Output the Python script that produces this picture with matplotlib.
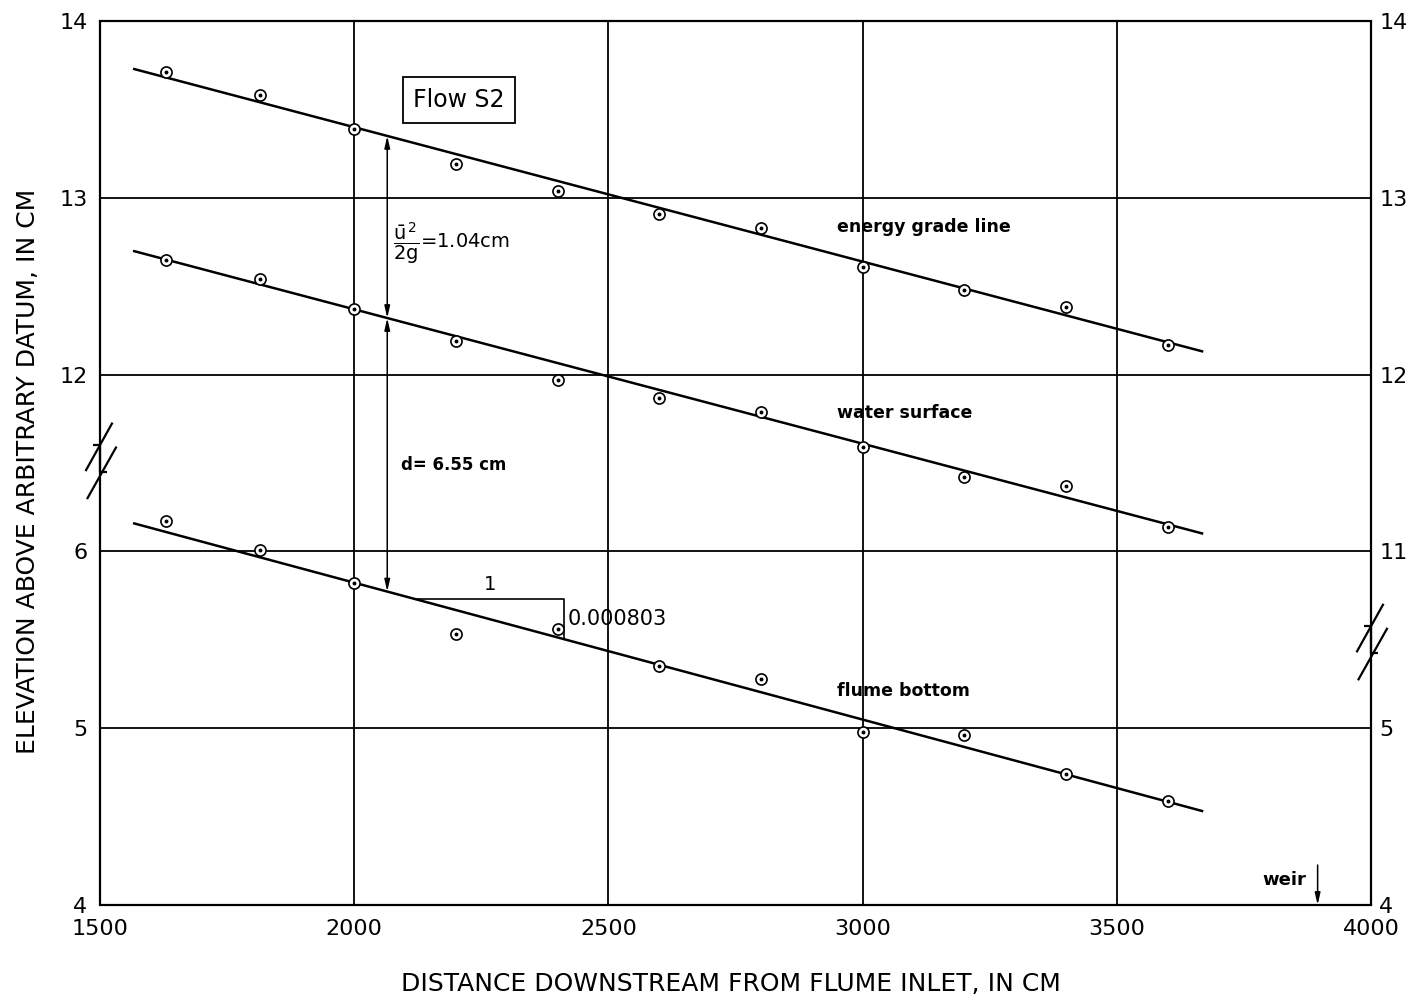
import numpy as np
import matplotlib
matplotlib.use('Agg')
import matplotlib.pyplot as plt

plt.rcParams['font.family'] = ['DejaVu Sans']
plt.rcParams['mathtext.fontset'] = 'dejavusans'

# measuring stations along the flume, cm
station = [1630, 1815, 2000, 2200, 2400, 2600, 2800, 3000, 3200, 3400, 3600]
energy = [13.71, 13.58, 13.39, 13.19, 13.04, 12.91, 12.83, 12.61, 12.48, 12.38, 12.17]
water = [12.65, 12.54, 12.37, 12.19, 11.97, 11.87, 11.79, 11.59, 11.42, 11.37, 11.14]
bottom = [6.17, 6.01, 5.82, 5.53, 5.56, 5.35, 5.28, 4.98, 4.96, 4.74, 4.59]

# fitted straight lines: end stations and elevations
fit_x = [1565, 3670]
energy_fit = [13.73, 12.13]
water_fit = [12.70, 11.10]
bottom_fit = [6.16, 4.53]

x_ticks = [1500, 2000, 2500, 3000, 3500, 4000]
left_labels = ['4', '5', '6', '12', '13', '14']
right_labels = ['4', '5', '11', '12', '13', '14']

velocity_head = 1.04
depth = 6.55
bed_slope = 0.000803
dim_station = 2065
slope_x = [2122, 2412]
weir_station = 3895

# upper readings (energy line, water surface) are shifted down past the break
SHIFT = 5.0

fig = plt.figure(figsize=(14.08, 10.02), dpi=100)
ax = fig.add_axes([100 / 1408, 97 / 1002, 1271 / 1408, 884 / 1002])
ax.set_xlim(1500, 4000)
ax.set_ylim(4, 9)

# pixel -> data scale, used for the break symbols
sx = 2500 / 1271
sy = 5 / 884

ax.set_xticks(x_ticks)
ax.set_xticklabels([str(v) for v in x_ticks])
ax.set_yticks(range(4, 10))
ax.set_yticklabels(left_labels)
ax.grid(True, color='black', lw=1.3)
ax.tick_params(length=0, labelsize=16)
ax.tick_params(axis='x', pad=10)
ax.tick_params(axis='y', pad=9)
for s in ['left', 'right']:
    ax.spines[s].set_visible(False)
for s in ['top', 'bottom']:
    ax.spines[s].set_linewidth(1.6)

ax2 = ax.twinx()
ax2.set_ylim(4, 9)
ax2.set_yticks(range(4, 10))
ax2.set_yticklabels(right_labels)
ax2.tick_params(length=0, labelsize=16, pad=6)
for s in ax2.spines.values():
    s.set_visible(False)


def broken_spine(x, yc):
    kw = dict(color='black', lw=1.6, clip_on=False, solid_capstyle='butt')
    gap = 13.5
    ax.plot([x, x], [4, yc + gap * sy], **kw)
    ax.plot([x, x], [yc - gap * sy, 9], **kw)

    def seg(p, q):
        ax.plot([x + p[0] * sx, x + q[0] * sx],
                [yc - p[1] * sy, yc - q[1] * sy], **kw)

    seg((12.5, -36), (-14.5, 12.5))
    seg((16.5, -12), (-13, 40.5))
    seg((-7, -gap), (0, -gap))
    seg((0, gap), (7, gap))


broken_spine(1500, 6.525)
broken_spine(4000, 5.5)

# fitted lines
line_kw = dict(color='black', lw=1.8, solid_capstyle='butt', zorder=3)
ax.plot(fit_x, np.array(energy_fit) - SHIFT, **line_kw)
ax.plot(fit_x, np.array(water_fit) - SHIFT, **line_kw)
ax.plot(fit_x, bottom_fit, **line_kw)

# observed points: open circles with a centre dot
for ys in [np.array(energy) - SHIFT, np.array(water) - SHIFT, np.array(bottom)]:
    ax.plot(station, ys, ls='none', marker='o', ms=8, mfc='white',
            mec='black', mew=1.2, zorder=4)
    ax.plot(station, ys, ls='none', marker='o', ms=1.8, color='black', zorder=5)

# dimension arrows for velocity head and depth
ye = np.interp(dim_station, fit_x, energy_fit) - SHIFT
yw = np.interp(dim_station, fit_x, water_fit) - SHIFT
yb = np.interp(dim_station, fit_x, bottom_fit)
arrow = dict(arrowstyle='<|-|>,head_length=0.7,head_width=0.16', color='black',
             lw=1.1, shrinkA=0, shrinkB=0)
ax.annotate('', xy=(dim_station, yw), xytext=(dim_station, ye), arrowprops=arrow)
ax.annotate('', xy=(dim_station, yw), xytext=(dim_station, yb), arrowprops=arrow)

ax.text(2076, 7.744, r'$\dfrac{\bar{\mathrm{u}}^{\,2}}{2\mathrm{g}}$' + f'={velocity_head:.2f}cm',
        fontsize=14, va='center', ha='left')
ax.text(2092, 6.489, f'd= {depth:.2f} cm', fontsize=12, fontweight='bold',
        va='center', ha='left')

# slope triangle on the flume bottom
y1 = np.interp(slope_x[0], fit_x, bottom_fit)
y2 = np.interp(slope_x[1], fit_x, bottom_fit)
ax.plot([slope_x[0], slope_x[1], slope_x[1]], [y1, y1, y2], color='black', lw=1.2, zorder=3)
ax.text(sum(slope_x) / 2, y1 + 0.03, '1', fontsize=14, ha='center', va='bottom')
ax.text(slope_x[1] + 8, (y1 + y2) / 2, f'{bed_slope:.6f}', fontsize=15,
        ha='left', va='center')

ax.text(2206, 8.553, 'Flow S2', fontsize=17, ha='center', va='center',
        bbox=dict(boxstyle='square,pad=0.45', fc='white', ec='black', lw=1.3))

lbl = dict(fontsize=12.5, fontweight='bold', va='center', ha='left')
ax.text(2950, 7.835, 'energy grade line', **lbl)
ax.text(2950, 6.783, 'water surface', **lbl)
ax.text(2950, 5.21, 'flume bottom', **lbl)

ax.text(3873, 4.141, 'weir', fontsize=13, fontweight='bold', ha='right', va='center')
ax.annotate('', xy=(weir_station, 4.0), xytext=(weir_station, 4.226),
            arrowprops=dict(arrowstyle='-|>,head_length=0.7,head_width=0.16',
                            color='black', lw=1.1, shrinkA=0, shrinkB=0))

ax.set_xlabel('DISTANCE DOWNSTREAM FROM FLUME INLET, IN CM', fontsize=18)
ax.xaxis.set_label_coords(0.4965, -0.076)
ax.set_ylabel('ELEVATION ABOVE ARBITRARY DATUM, IN CM', fontsize=18)
ax.yaxis.set_label_coords(-0.047, 0.491)

fig.savefig('out.png', dpi=100)
